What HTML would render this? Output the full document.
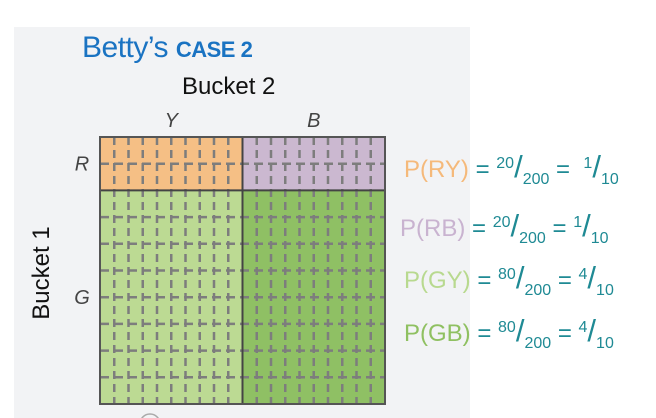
<!DOCTYPE html>
<html><head><meta charset="utf-8"><style>
body{margin:0;width:656px;height:418px;background:#fff;position:relative;overflow:hidden;font-family:"Liberation Sans",sans-serif}
.t{position:absolute;white-space:nowrap}
.eq{position:absolute;left:404px;font-size:24px;color:#1f8a94;white-space:nowrap;font-family:"Liberation Sans",sans-serif;letter-spacing:0px}
.eq sup{font-size:16px;vertical-align:9px}.eq sub{font-size:16px;vertical-align:-7px}
.eq .s{font-size:31px;font-weight:300}
</style></head><body>
<div style="position:absolute;left:14px;top:27px;width:456px;height:391px;background:#f2f3f5"></div>
<div class="t" style="left:82px;top:31px;color:#1a73c2;font-size:30px;letter-spacing:-0.5px">Betty’s <b style="font-size:22px">CASE 2</b></div>
<div class="t" style="left:182px;top:73px;font-size:24px;color:#111">Bucket 2</div>
<div class="t" style="left:-13px;top:259px;font-size:24px;color:#111;transform:rotate(-90deg);width:110px;text-align:center">Bucket 1</div>
<svg id="chart" width="656" height="418" style="position:absolute;left:0;top:0"></svg>
<div class="eq" style="top:149px"><span style="color:#f5b97a">P(RY)</span> = <sup>20</sup><span class="s">/</span><sub>200</sub> = &nbsp;<sup>1</sup><span class="s">/</span><sub>10</sub></div>
<div class="eq" style="top:208px;left:400px"><span style="color:#c9b3d0">P(RB)</span> = <sup>20</sup><span class="s">/</span><sub>200</sub> = <sup>1</sup><span class="s">/</span><sub>10</sub></div>
<div class="eq" style="top:260px"><span style="color:#b8d98f">P(GY)</span> = <sup>80</sup><span class="s">/</span><sub>200</sub> = <sup>4</sup><span class="s">/</span><sub>10</sub></div>
<div class="eq" style="top:313px"><span style="color:#8fc061">P(GB)</span> = <sup>80</sup><span class="s">/</span><sub>200</sub> = <sup>4</sup><span class="s">/</span><sub>10</sub></div>
<script>
const rowLabels=["R","G"];
const colLabels=["Y","B"];
const rowShares=[20,80];
const colShares=[100,100];
const cellColors=[["#f5bf85","#cbb8d0"],["#bcda93","#8fc064"]];
const NS="http://www.w3.org/2000/svg";
const svg=document.getElementById('chart');
const X0=100,X1=385,Y0=137,Y1=404;
const rt=rowShares.reduce((a,b)=>a+b,0),ct=colShares.reduce((a,b)=>a+b,0);
function xs(v){return X0+(X1-X0)*v/ct}
function ys(v){return Y0+(Y1-Y0)*v/rt}
function mk(t,a){const e=document.createElementNS(NS,t);for(const k in a)e.setAttribute(k,a[k]);svg.appendChild(e);return e}
let ry=0;
rowShares.forEach((r,i)=>{let cx=0;colShares.forEach((c,j)=>{
 const e=mk('rect',{x:xs(cx),y:ys(ry),width:xs(cx+c)-xs(cx),height:ys(ry+r)-ys(ry),fill:cellColors[i][j]});
 
 
 cx+=c;});
 const l=mk('text',{x:82,y:(ys(ry)+ys(ry+r))/2+7,'font-size':20,'font-style':'italic',fill:'#444','text-anchor':'middle','font-family':'Liberation Sans'});l.textContent=rowLabels[i];
 
 
 ry+=r;});
for(let v=10;v<ct;v+=10){if(v===ct/2)continue;
 const e=mk('line',{x1:xs(v),x2:xs(v),y1:Y0,y2:Y1+4,stroke:'#7d7d7d','stroke-width':2.5,'stroke-dasharray':'8,5'});
 }
for(let v=10;v<rt;v+=10){if(v===rowShares[0])continue;
 const e=mk('line',{x1:X0,x2:X1,y1:ys(v),y2:ys(v),stroke:'#7d7d7d','stroke-width':2.5,'stroke-dasharray':'9,5'});
 }
let cx=0;colShares.forEach((c,j)=>{
 const l=mk('text',{x:(xs(cx)+xs(cx+c))/2,y:127,'font-size':20,'font-style':'italic',fill:'#444','text-anchor':'middle','font-family':'Liberation Sans'});l.textContent=colLabels[j];
 
 cx+=c;});
const d1=mk('line',{x1:X0,x2:X1,y1:ys(rowShares[0]),y2:ys(rowShares[0]),stroke:'#444','stroke-width':2});

const d2=mk('line',{x1:xs(colShares[0]),x2:xs(colShares[0]),y1:Y0,y2:Y1,stroke:'#444','stroke-width':2});

const b=mk('rect',{x:X0,y:Y0,width:X1-X0,height:Y1-Y0,fill:'none',stroke:'#555','stroke-width':2});

const c0=mk('circle',{cx:150,cy:424,r:10,fill:'none',stroke:'#aaa','stroke-width':1.5});

</script>
</body></html>
